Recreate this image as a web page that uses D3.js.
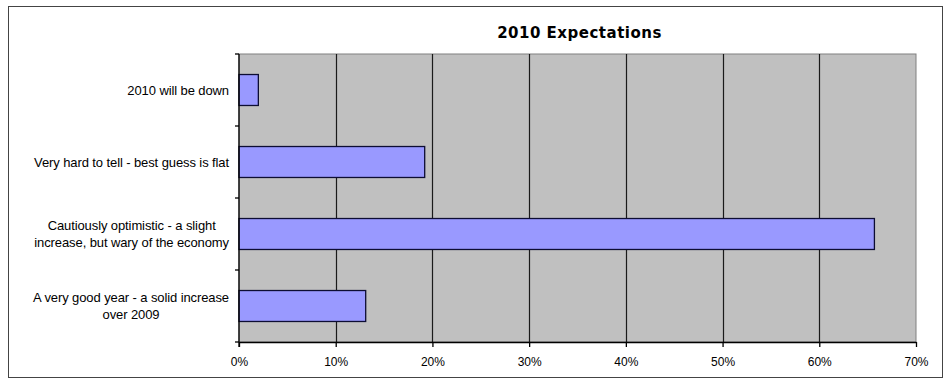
<!DOCTYPE html>
<html lang="en">
<head>
<meta charset="utf-8">
<title>2010 Expectations</title>
<style>
    body { margin: 0; background: #fff; }
    svg { display: block; }
    .tick text { font-family: "Liberation Sans", Arial, sans-serif; font-size: 12px; fill: #000; }
    .cat { font-family: "Liberation Sans", Arial, sans-serif; font-size: 13px; fill: #000; letter-spacing: -0.1px; }
    .title { font-family: "DejaVu Sans", Verdana, sans-serif; font-size: 15px; font-weight: bold; letter-spacing: 0.5px; }
</style>
</head>
<body>
<svg id="chart"></svg>
<script src="https://d3js.org/d3.v7.min.js"></script>
<script>
// data
var categories = [
    ["2010 will be down"],
    ["Very hard to tell - best guess is flat"],
    ["Cautiously optimistic - a slight", "increase, but wary of the economy"],
    ["A very good year - a solid increase", "over 2009"]
];
var values = [2.0, 19.2, 65.7, 13.1];
var xTicks = [0, 10, 20, 30, 40, 50, 60, 70];
var title = "2010 Expectations";

var width = 949, height = 379;
var plot = {left: 239, right: 916, top: 54, bottom: 342};

var svg = d3.select("#chart").attr("width", width).attr("height", height);

// outer frame
svg.append("rect")
    .attr("x", 8.5).attr("y", 6.5)
    .attr("width", 934).attr("height", 371)
    .attr("fill", "#fff").attr("stroke", "#444");

var x = d3.scaleLinear().domain([0, 70]).range([plot.left, plot.right]);
var y = d3.scaleBand()
    .domain(d3.range(categories.length))
    .range([plot.top, plot.bottom])
    .paddingInner(0.57)
    .paddingOuter(0.285);

// plot area
svg.append("rect")
    .attr("x", plot.left).attr("y", plot.top)
    .attr("width", plot.right - plot.left).attr("height", plot.bottom - plot.top)
    .attr("fill", "#c0c0c0").attr("stroke", "#808080");

// gridlines
svg.append("g").selectAll("line")
    .data(xTicks.filter(function(d){ return d > 0 && d < 70; }))
    .enter().append("line")
    .attr("x1", function(d){ return Math.round(x(d)) + 0.5; })
    .attr("x2", function(d){ return Math.round(x(d)) + 0.5; })
    .attr("y1", plot.top).attr("y2", plot.bottom)
    .attr("stroke", "#1a1a1a").attr("stroke-width", 1.2);

// bars
svg.append("g").selectAll("rect")
    .data(values)
    .enter().append("rect")
    .attr("x", x(0))
    .attr("y", function(d, i){ return y(i); })
    .attr("width", function(d){ return x(d) - x(0); })
    .attr("height", y.bandwidth())
    .attr("fill", "#9999ff")
    .attr("stroke", "#0d0d33").attr("stroke-width", 1.3);

// bottom axis
var xAxis = svg.append("g")
    .attr("transform", "translate(0," + plot.bottom + ")")
    .call(d3.axisBottom(x).tickValues(xTicks).tickSize(5).tickSizeOuter(0)
        .tickFormat(function(d){ return d + "%"; }));
xAxis.select(".domain").attr("stroke", "#000").attr("stroke-width", 1.3);
xAxis.selectAll(".tick line").attr("stroke", "#000").attr("stroke-width", 1.3);
xAxis.selectAll(".tick text").attr("y", 15);

// left axis with ticks at band edges
var yEdges = d3.range(categories.length + 1).map(function(i){
    return plot.top + i * (plot.bottom - plot.top) / categories.length;
});
svg.append("line")
    .attr("x1", plot.left).attr("x2", plot.left)
    .attr("y1", plot.top).attr("y2", plot.bottom + 5)
    .attr("stroke", "#000").attr("stroke-width", 1.3);
svg.append("g").selectAll("line")
    .data(yEdges)
    .enter().append("line")
    .attr("x1", plot.left - 4).attr("x2", plot.left)
    .attr("y1", function(d){ return d; }).attr("y2", function(d){ return d; })
    .attr("stroke", "#000").attr("stroke-width", 1.3);

// category labels, right edge at 229, multi-line centred on each other
var labelRight = 229;
var lineH = 17;
categories.forEach(function(lines, i){
    var cy = y(i) + y.bandwidth() / 2;
    var t = svg.append("text").attr("class", "cat").attr("text-anchor", "middle");
    lines.forEach(function(line, j){
        t.append("tspan")
            .attr("y", cy + (j - (lines.length - 1) / 2) * lineH)
            .attr("dy", "0.35em")
            .text(line);
    });
    var maxW = d3.max(t.selectAll("tspan").nodes(), function(n){ return n.getComputedTextLength(); });
    t.selectAll("tspan").attr("x", labelRight - maxW / 2);
});

// title
svg.append("text")
    .attr("class", "title")
    .attr("x", (plot.left + plot.right) / 2 + 2)
    .attr("y", 38)
    .attr("text-anchor", "middle")
    .text(title);
</script>
</body>
</html>
